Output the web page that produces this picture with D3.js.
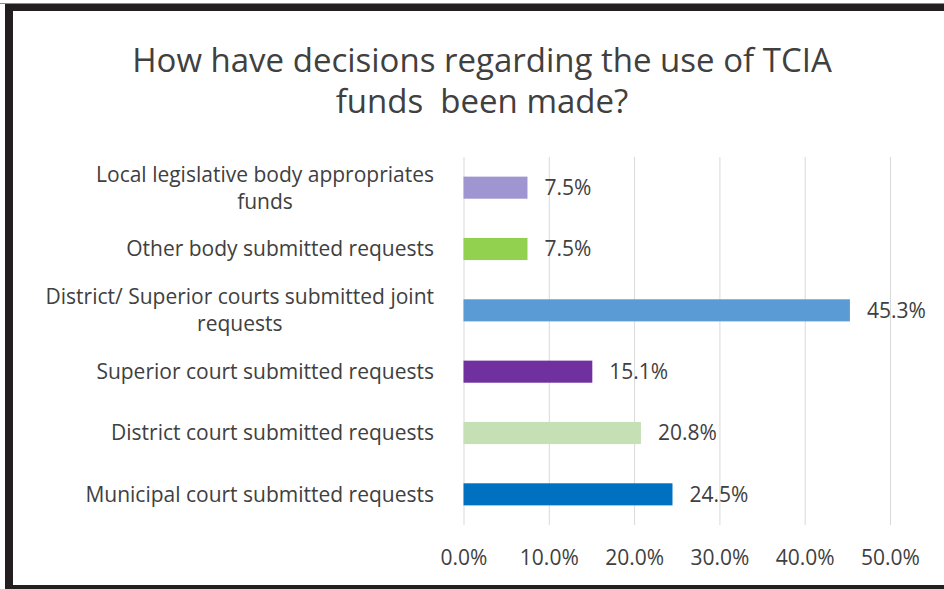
<!DOCTYPE html>
<html>
<head>
<meta charset="utf-8">
<script src="https://cdn.jsdelivr.net/npm/d3@7"></script>
<style>
  html, body { margin: 0; padding: 0; background: #fff; }
  svg { display: block; font-family: "Open Sans", sans-serif; }
</style>
</head>
<body>
<div id="chart"></div>
<script>
// Data, top to bottom as shown
const categories = [
  ["Local legislative body appropriates", "funds"],
  ["Other body submitted requests"],
  ["District/ Superior courts submitted joint", "requests"],
  ["Superior court submitted requests"],
  ["District court submitted requests"],
  ["Municipal court submitted requests"],
];
const values = [7.5, 7.5, 45.3, 15.1, 20.8, 24.5];
const barColors = ["#9e95d1", "#92d050", "#5b9bd5", "#7030a0", "#c5e0b4", "#0070c0"];
const tickValues = [0, 10, 20, 30, 40, 50];
const titleLines = ["How have decisions regarding the use of TCIA", "funds  been made?"];

const W = 944, H = 589;
const textColor = "#404040";
const labelSize = "21px";

const svg = d3.select("#chart").append("svg")
  .attr("width", W)
  .attr("height", H);

// frame
svg.append("rect").attr("width", W).attr("height", H).attr("fill", "#fff");
svg.append("line")
  .attr("x1", 0).attr("x2", W).attr("y1", 3.5).attr("y2", 3.5)
  .attr("stroke", "#8a8a8a").attr("stroke-width", 1);
svg.append("rect")
  .attr("x", 5).attr("y", 4).attr("width", W - 5).attr("height", 7)
  .attr("fill", "#231f20");
svg.append("rect")
  .attr("x", 5).attr("y", 4).attr("width", 8).attr("height", H - 4)
  .attr("fill", "#231f20");
svg.append("rect")
  .attr("x", 5).attr("y", 585).attr("width", W - 5).attr("height", 4)
  .attr("fill", "#231f20");

// title
const title = svg.append("text")
  .attr("text-anchor", "middle")
  .attr("fill", textColor)
  .style("font-size", "33px")
  .style("white-space", "pre");
titleLines.forEach((t, i) => {
  title.append("tspan")
    .attr("x", 482)
    .attr("y", 72 + i * 41)
    .text(t);
});

// scales
const plotLeft = 463.5, plotRight = 890;
const plotTop = 157, plotBottom = 525;

const x = d3.scaleLinear()
  .domain([0, 50])
  .range([plotLeft, plotRight]);

const y = d3.scaleBand()
  .domain(d3.range(categories.length))
  .range([plotTop, plotBottom])
  .paddingInner(0.64)
  .paddingOuter(0.32);

// grid
svg.append("g")
  .attr("transform", `translate(0,${plotBottom})`)
  .call(d3.axisBottom(x).tickValues(tickValues).tickSize(-(plotBottom - plotTop)).tickFormat(""))
  .call((g) => g.select(".domain").remove())
  .call((g) => g.selectAll(".tick line").attr("stroke", "#d9d9d9"));

// x tick labels
svg.append("g")
  .attr("transform", `translate(0,${plotBottom})`)
  .call(d3.axisBottom(x).tickValues(tickValues).tickSize(0).tickPadding(0)
    .tickFormat((d) => d.toFixed(1) + "%"))
  .call((g) => g.select(".domain").remove())
  .call((g) => g.selectAll(".tick text")
    .attr("fill", textColor)
    .attr("font-family", "Open Sans, sans-serif")
    .style("font-size", labelSize)
    .attr("dy", null)
    .attr("y", 40));

// bars
svg.append("g")
  .selectAll("rect")
  .data(values)
  .join("rect")
  .attr("x", x(0))
  .attr("y", (d, i) => y(i))
  .attr("width", (d) => x(d) - x(0))
  .attr("height", y.bandwidth())
  .attr("fill", (d, i) => barColors[i]);

// value labels
svg.append("g")
  .selectAll("text")
  .data(values)
  .join("text")
  .attr("x", (d) => x(d) + 17)
  .attr("y", (d, i) => y(i) + y.bandwidth() / 2)
  .attr("dy", "0.35em")
  .attr("fill", textColor)
  .style("font-size", labelSize)
  .text((d) => d.toFixed(1) + "%");

// category labels: block right aligned, lines centered inside block
const labelRight = 434;
const lineGap = 27;
categories.forEach((lines, i) => {
  const cy = y(i) + y.bandwidth() / 2;
  const g = svg.append("g");
  const texts = lines.map((t, j) =>
    g.append("text")
      .attr("fill", textColor)
      .style("font-size", labelSize)
      .attr("dy", "0.35em")
      .attr("y", cy + (j - (lines.length - 1) / 2) * lineGap)
      .text(t)
  );
  const widths = texts.map((t) => t.node().getComputedTextLength());
  const blockW = d3.max(widths);
  const cx = labelRight - blockW / 2;
  texts.forEach((t) => t.attr("x", cx).attr("text-anchor", "middle"));
});
</script>
</body>
</html>
